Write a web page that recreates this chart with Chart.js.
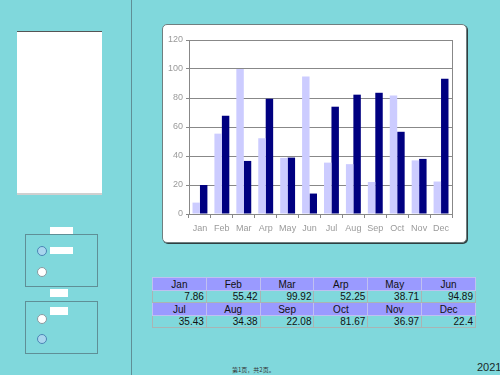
<!DOCTYPE html>
<html>
<head>
<meta charset="utf-8">
<script src="https://cdn.jsdelivr.net/npm/chart.js@4.4.0/dist/chart.umd.min.js"></script>
<style>
  html, body { margin: 0; padding: 0; }
  body { width: 500px; height: 375px; background: #80d8dc; position: relative; overflow: hidden;
         font-family: "Liberation Sans", Arial, sans-serif; }
  .abs { position: absolute; }
  #vline { left: 131px; top: 0; width: 1px; height: 375px; background: #5f8f96; }
  #leftPanel { left: 17px; top: 31px; width: 85px; height: 161px; background: #fff;
               border-top: 1px solid #555; border-bottom: 2px solid #d0d0d0; }
  .group { left: 25px; width: 71px; border: 1px solid #5f8f96; }
  .tag { background: #fff; }
  .radio { width: 8px; height: 8px; border-radius: 50%; background: #fff; border: 1px solid #8a9aa0; }
  .radio.on { background: #a9d6ee; border-color: #4a86b5; }
  #panel { left: 162px; top: 24px; width: 303px; height: 217px; background: #fff;
           border: 1px solid #6f7f80; border-radius: 5px; box-shadow: 1px 1px 0 #2f3f40; }
  #chart { left: 162px; top: 24px; }
  #tbl { left: 152px; top: 277px; width: 324px; border-collapse: collapse; table-layout: fixed;
         font-size: 10px; color: #111; }
  #tbl td { border: 1px solid #a9b4b4; padding: 0 2px; height: 11px; line-height: 11px; }
  #tbl tr.h td { background: #9a9aff; text-align: center; border-color: #c0c0f0; height: 12px; }
  #tbl tr.v td { text-align: right; }
  #foot { left: 232px; top: 365px; font-size: 6px; color: #333; font-family: "Noto Sans CJK SC", sans-serif; }
  #year { left: 477px; top: 361px; font-size: 11px; color: #1a2a2a; }
</style>
</head>
<body>
<div id="vline" class="abs"></div>
<div id="leftPanel" class="abs"></div>

<div class="abs tag" style="left:50px;top:227px;width:23px;height:8px;"></div>
<div class="abs group" style="top:234px;height:51px;"></div>
<div class="abs radio on" style="left:37px;top:246px;"></div>
<div class="abs tag" style="left:50px;top:247px;width:23px;height:7px;"></div>
<div class="abs radio" style="left:37px;top:267px;"></div>

<div class="abs tag" style="left:50px;top:289px;width:18px;height:8px;"></div>
<div class="abs group" style="top:301px;height:51px;"></div>
<div class="abs radio" style="left:37px;top:314px;"></div>
<div class="abs tag" style="left:50px;top:307px;width:18px;height:8px;"></div>
<div class="abs radio on" style="left:37px;top:334px;"></div>

<div id="panel" class="abs"></div>
<canvas id="chart" class="abs" width="305" height="219" style="width:305px;height:219px;"></canvas>

<table id="tbl" class="abs"></table>

<div id="foot" class="abs">第1页，共2页。</div>
<div id="year" class="abs">2021</div>

<script>
"use strict";

var months = ["Jan", "Feb", "Mar", "Arp", "May", "Jun", "Jul", "Aug", "Sep", "Oct", "Nov", "Dec"];
var lightValues = [7.86, 55.42, 99.92, 52.25, 38.71, 94.89, 35.43, 34.38, 22.08, 81.67, 36.97, 22.4];
var darkValues = [20, 67.7, 36.6, 79.5, 38.9, 14.1, 74, 82.3, 83.6, 56.7, 38, 93.3];
var yMax = 120;
var yStep = 20;

var axisFont = { family: "'Liberation Sans', Arial, sans-serif", size: 9 };

// table under the chart: two blocks of six months
function buildTable() {
  var tbl = document.getElementById("tbl");
  var html = "";
  for (var block = 0; block < 2; block++) {
    var head = "<tr class='h'>";
    var vals = "<tr class='v'>";
    for (var i = block * 6; i < block * 6 + 6; i++) {
      head += "<td>" + months[i] + "</td>";
      vals += "<td>" + lightValues[i] + "</td>";
    }
    html += head + "</tr>" + vals + "</tr>";
  }
  tbl.innerHTML = html;
}

// frame round the plot area
var plotFrame = {
  id: "plotFrame",
  afterDraw: function (chart) {
    var a = chart.chartArea;
    var c = chart.ctx;
    c.save();
    c.strokeStyle = "#888";
    c.lineWidth = 1;
    c.strokeRect(Math.round(a.left) + 0.5, Math.round(a.top) + 0.5,
                 Math.round(a.right - a.left), Math.round(a.bottom - a.top));
    c.restore();
  }
};

function draw() {
  new Chart(document.getElementById("chart"), {
    type: "bar",
    data: {
      labels: months,
      datasets: [
        {
          data: lightValues,
          backgroundColor: "#ccccff",
          categoryPercentage: 0.68,
          barPercentage: 1.0,
        },
        {
          data: darkValues,
          backgroundColor: "#000080",
          categoryPercentage: 0.68,
          barPercentage: 1.0,
        },
      ],
    },
    options: {
      responsive: false,
      animation: false,
      layout: { padding: { top: 16, right: 15, left: 0, bottom: 0 } },
      plugins: {
        legend: { display: false },
        tooltip: { enabled: false },
      },
      scales: {
        x: {
          grid: { drawOnChartArea: false, color: "#888", tickLength: 4, offset: true },
          border: { color: "#888" },
          ticks: { color: "#9a9a9a", font: axisFont, padding: 5, maxRotation: 0 },
          afterFit: function (s) { s.height = 29; },
        },
        y: {
          min: 0,
          max: yMax,
          ticks: { stepSize: yStep, color: "#9a9a9a", font: axisFont, padding: 3 },
          grid: { color: "#888", tickLength: 3 },
          border: { color: "#888" },
          afterFit: function (s) { s.width = 27; },
        },
      },
    },
    plugins: [plotFrame],
  });
}

buildTable();
draw();
</script>
</body>
</html>
